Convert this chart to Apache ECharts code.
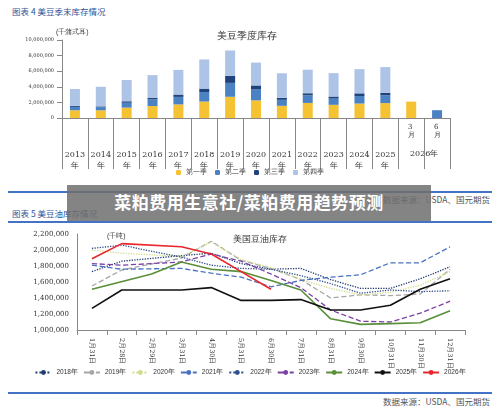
<!DOCTYPE html><html><head><meta charset="utf-8">
<script src="https://cdn.jsdelivr.net/npm/echarts@6/dist/echarts.min.js"></script>
<style>
body{margin:0;width:500px;height:407px;background:#fff;position:relative;overflow:hidden;font-family:"Noto Sans CJK SC",sans-serif}
.t{position:absolute;left:12px;font-size:8.5px;color:#2f5597}
.ln{position:absolute;left:8px;width:484px;height:1.5px;background:#4472c4}
#c1{position:absolute;left:0;top:18px;width:500px;height:165px}
#c2{position:absolute;left:0;top:224px;width:500px;height:167px}
#ban{position:absolute;left:67px;top:185px;width:364px;height:36px;background:rgba(110,110,110,0.85);color:#fff;font-weight:bold;font-size:17px;line-height:34px;text-align:center;letter-spacing:0.5px}
.src{position:absolute;right:10px;font-size:8.5px;color:#555}
</style></head><body>
<div class="t" style="top:5px">图表 4 美豆季末库存情况</div>
<div id="c1"></div>
<div class="ln" style="top:191px"></div>
<div class="src" style="top:193px">数据来源：USDA、国元期货</div>
<div class="t" style="top:207px">图表 5 美豆油库存情况</div>
<div class="ln" style="top:221px"></div>
<div id="c2"></div>
<div class="ln" style="top:392px"></div>
<div class="src" style="top:395px">数据来源：USDA、国元期货</div>
<div id="ban">菜粕费用生意社/菜粕费用趋势预测</div>
<script>
const yearCats=['2013\n年','2014\n年','2015\n年','2016\n年','2017\n年','2018\n年','2019\n年','2020\n年','2021\n年','2022\n年','2023\n年','2024\n年','2025\n年','3月','6月'];
const q1=[990000,990000,1330000,1530000,1740000,2110000,2720000,2260000,1560000,1930000,1690000,1850000,1910000,2100000,null];
const q2=[435000,405000,625000,870000,966000,1220000,1780000,1390000,770000,970000,796000,970000,1010000,null,1000000];
const q3=[140000,92000,191000,197000,302000,438000,909000,523000,256000,274000,268000,342000,316000,null,null];
const q4=[2150000,2520000,2720000,2900000,3160000,3740000,3250000,2930000,3150000,3020000,3000000,3100000,3290000,null,null];
const qNames=['第一季','第二季','第三季','第四季'];
const qColors=['#f5c233','#4b82c4','#21437d','#aec4e6'];
const dateCats=['1月31日','2月28日','2月29日','3月31日','4月30日','5月31日','6月30日','7月31日','8月31日','9月30日','10月31日','11月30日','12月31日'];
const y2018=[1730000,1860000,null,1930000,1960000,1830000,1760000,1770000,1630000,1520000,1520000,1640000,1790000];
const y2019=[1550000,1750000,null,1900000,2110000,1870000,1770000,1630000,1400000,1440000,1430000,1450000,1760000];
const y2020=[2000000,1960000,null,1920000,2100000,1880000,1780000,1630000,1520000,1440000,1470000,1560000,1730000];
const y2021=[1810000,1760000,null,1770000,1710000,1660000,1540000,1620000,1660000,1690000,1840000,1840000,2040000];
const y2022=[2020000,2060000,null,1910000,1810000,1770000,1760000,1680000,1580000,1460000,1500000,1480000,1490000];
const y2023=[1830000,1810000,null,1850000,1950000,1860000,1700000,1530000,1250000,1110000,1100000,1210000,1360000];
const y2024=[1510000,null,1700000,1850000,1760000,1730000,1620000,1500000,1140000,1070000,1080000,1090000,1240000];
const y2025=[1270000,1500000,null,1500000,1530000,1370000,1370000,1380000,1250000,1250000,1310000,1510000,1640000];
const y2026=[1890000,2080000,null,2040000,1950000,1730000,1510000,null,null,null,null,null,null];
const lineNames=['2018年','2019年','2020年','2021年','2022年','2023年','2024年','2025年','2026年'];
const lineData=[y2018,y2019,y2020,y2021,y2022,y2023,y2024,y2025,y2026];
const lineColors=['#1f3a6e','#a6a6a6','#d0dc8a','#4a72c4','#2f4f8f','#7b3fa6','#5a8f3a','#111111','#e8262b'];
const lineTypes=['dotted','dashed','dotted','dashed','dotted','dashed','solid','solid','solid'];
const serif='"DejaVu Serif","Liberation Serif",serif';

const c1=echarts.init(document.getElementById('c1'));
c1.setOption({animation:false,
 title:{text:'美豆季度库存',left:212,top:8,textStyle:{fontSize:10,fontWeight:'normal',color:'#333',fontFamily:serif}},
 legend:{bottom:2,left:'center',itemWidth:5,itemHeight:5,itemGap:8,textStyle:{fontSize:7,color:'#333',fontFamily:serif},data:qNames},
 grid:{left:62,right:50,top:22,bottom:65},
 xAxis:{type:'category',data:yearCats,axisLine:{lineStyle:{color:'#888'}},
  axisTick:{show:true,length:51,interval:0,lineStyle:{color:'#888'}},
  axisLabel:{interval:0,fontSize:8,color:'#333',fontFamily:serif,lineHeight:11,
   formatter:(v,i)=>i>=13?'':v,margin:31}},
 yAxis:{type:'value',min:0,max:10000000,interval:2000000,name:'(千蒲式耳)',nameLocation:'end',nameGap:4,nameTextStyle:{fontSize:7,color:'#333',align:'left',padding:[0,0,0,-6]},
  axisLine:{show:true,lineStyle:{color:'#888'}},axisTick:{show:true,lineStyle:{color:'#888'}},splitLine:{show:false},
  axisLabel:{fontSize:5,color:'#333',fontFamily:serif,formatter:v=>v.toLocaleString('en-US')}},
 graphic:[
  {type:'text',left:410,top:132,style:{text:'2026年',fontSize:8,fill:'#333',fontFamily:serif}},
  {type:'text',left:408,top:105,style:{text:'3\n月',fontSize:7,lineHeight:8,fill:'#333',fontFamily:serif}},
  {type:'text',left:434,top:105,style:{text:'6\n月',fontSize:7,lineHeight:8,fill:'#333',fontFamily:serif}}],
 series:[q1,q2,q3,q4].map((d,i)=>({name:qNames[i],type:'bar',stack:'a',barWidth:10,data:d,itemStyle:{color:qColors[i]}}))
});

const c2=echarts.init(document.getElementById('c2'));
c2.setOption({animation:false,
 title:{text:'美国豆油库存',left:228,top:6,textStyle:{fontSize:9,fontWeight:'normal',color:'#333',fontFamily:serif}},
 legend:{bottom:10,left:'center',itemWidth:16,itemHeight:6,itemGap:5,textStyle:{fontSize:6.5,color:'#333'},data:lineNames},
 grid:{left:77,right:35,top:10,bottom:61},
 xAxis:{type:'category',data:dateCats,boundaryGap:true,axisLine:{lineStyle:{color:'#888'}},
  axisTick:{show:true,interval:0,lineStyle:{color:'#888'}},
  axisLabel:{interval:0,rotate:-90,fontSize:6.5,color:'#333',fontFamily:serif}},
 yAxis:{type:'value',min:1000000,max:2200000,interval:200000,name:'(千吨)',nameLocation:'end',nameGap:-6,
  nameTextStyle:{fontSize:7,color:'#333',align:'left',padding:[0,0,0,30]},
  axisLine:{show:true,lineStyle:{color:'#888'}},splitLine:{show:false},
  axisLabel:{fontSize:7,color:'#333',fontFamily:serif,formatter:v=>v.toLocaleString('en-US')}},
 series:lineData.map((d,i)=>({name:lineNames[i],type:'line',data:d,connectNulls:true,symbol:'none',
   itemStyle:{color:lineColors[i]},
   lineStyle:{color:lineColors[i],type:lineTypes[i],width:i>=6?1.6:1.3}}))
});
</script></body></html>
